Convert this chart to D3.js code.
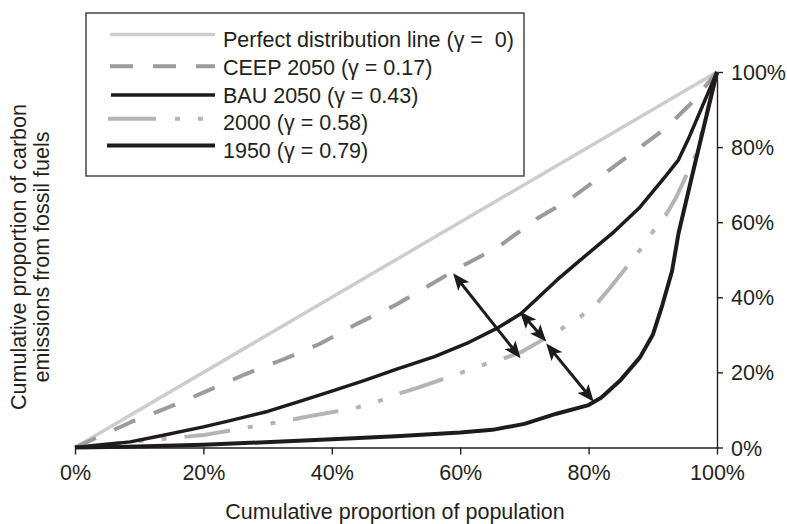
<!DOCTYPE html>
<html><head><meta charset="utf-8">
<script src="https://cdn.jsdelivr.net/npm/d3@7"></script>
<style>
html,body{margin:0;padding:0;background:#fff;}
svg{display:block;font-family:"Liberation Sans",Arial,Helvetica,sans-serif;}
text{white-space:pre;}
</style></head>
<body>
<svg id="chart" width="787" height="524"></svg>
<script>
// ---- data (cumulative % population, cumulative % emissions) ----
const xTicks = [0, 20, 40, 60, 80, 100];
const yTicks = [0, 20, 40, 60, 80, 100];
const seriesNames = ["Perfect distribution line (\u03b3 =  0)", "CEEP 2050 (\u03b3 = 0.17)", "BAU 2050 (\u03b3 = 0.43)", "2000 (\u03b3 = 0.58)", "1950 (\u03b3 = 0.79)"];
const perfectLine = [[0,0],[100,100]];
const ceep2050 = [[0,0],[8.5,6.6],[15,11],[20.5,15],[26.5,19.5],[32.5,23.5],[38,27.5],[44,33],[50,38],[55,43],[60,48],[66,53.5],[72,61],[77,66],[86,77.4],[92,85],[96,91.7],[100,100]];
const bau2050 = [[0,0],[8.6,1.5],[13,3],[20,5.5],[24,7.1],[30,9.6],[35,12.3],[40,15],[45,17.8],[50,20.8],[56,24.2],[61,27.7],[66,32],[69.5,35.7],[75,44.5],[78.7,49.9],[84,57.5],[88,64],[92,72.3],[94,76.6],[95.5,82],[100,100]];
const y2000 = [[0,0],[8.6,1.5],[15,2.5],[20,3.3],[25.7,5],[29,6],[33,7.1],[36,8.2],[43.4,10.4],[46.5,11.8],[49.8,14],[53.2,15.8],[60,19.8],[63,21.7],[66.7,23.7],[69.6,25.5],[75.5,31.3],[78.7,34.8],[81.3,38.4],[83.3,42.4],[88,52.6],[89.8,57],[92.2,62.4],[93.7,66.8],[96.8,78.3],[100,100]];
const y1950 = [[0,0],[8,0.2],[20,0.7],[40,2.2],[50,3],[60,4],[65,4.7],[70,6.3],[75,9],[80,11.3],[82,13.3],[85,18],[88,24],[90,30],[91.5,38],[93,47],[94,57],[96,71.5],[98.4,88.6],[100,100]];
// annotation arrows (tip to tip): [x1,y1,x2,y2] in data units
const arrows = [[58.9,46.4,69.4,23.8],[69.3,36.2,73.4,28.2],[73.4,27.7,80.8,12.2]];

// ---- layout ----
const svg = d3.select("#chart");
const x = d3.scaleLinear().domain([0,100]).range([75,717]);
const y = d3.scaleLinear().domain([0,100]).range([447.5,72]);
const fmt = d => d + "%";
const textCol = "#231f20";
const fontFam = '"Liberation Sans",Arial,Helvetica,sans-serif';

const styles = [
  {color:"#cdcdcd", width:3.5, dash:null},
  {color:"#9b9b9b", width:4, dash:"23,20"},
  {color:"#1f1b1c", width:3.5, dash:null},
  {color:"#b4b4b4", width:4, dash:"46,18,5,18,5,18"},
  {color:"#1f1b1c", width:4, dash:null}
];
const seriesData = [perfectLine, ceep2050, bau2050, y2000, y1950];

// axes
const xAxis = svg.append("g").attr("transform", `translate(0,${y(0)})`)
  .call(d3.axisBottom(x).tickValues(xTicks).tickFormat(fmt).tickSize(7).tickSizeOuter(0).tickPadding(10));
const yAxis = svg.append("g").attr("transform", `translate(${x(100)},0)`)
  .call(d3.axisRight(y).tickValues(yTicks).tickFormat(fmt).tickSize(6).tickSizeOuter(0).tickPadding(8));
[xAxis, yAxis].forEach(g => {
  g.selectAll("path.domain").attr("stroke", "#231f20").attr("stroke-width", 1.4);
  g.selectAll(".tick line").attr("stroke", "#231f20").attr("stroke-width", 1.4);
  g.selectAll(".tick text").attr("fill", textCol).style("font-size", "21.5px").style("font-family", fontFam);
});
xAxis.selectAll(".tick text").attr("dy", "0.72em");
yAxis.selectAll(".tick text").attr("dy", "0.35em");

// lines
const line = d3.line().x(d => x(d[0])).y(d => y(d[1])).curve(d3.curveLinear);
const drawOrder = [0, 1, 3, 2, 4];
drawOrder.forEach(i => {
  svg.append("path").datum(seriesData[i]).attr("d", line)
    .attr("fill", "none").attr("stroke", styles[i].color).attr("stroke-width", styles[i].width)
    .attr("stroke-linejoin", "round")
    .attr("stroke-dasharray", styles[i].dash);
});

// arrows
const defs = svg.append("defs");
defs.append("marker").attr("id", "ah").attr("viewBox", "0 0 17 14")
  .attr("markerWidth", 17).attr("markerHeight", 14).attr("markerUnits", "userSpaceOnUse")
  .attr("refX", 11).attr("refY", 7).attr("orient", "auto-start-reverse")
  .append("path").attr("d", "M0,0 L17,7 L0,14 L4,7 Z").attr("fill", "#1f1b1c");
const inset = 6;
svg.append("g").selectAll("line").data(arrows).join("line")
  .each(function(d) {
    const x1 = x(d[0]), y1 = y(d[1]), x2 = x(d[2]), y2 = y(d[3]);
    const L = Math.hypot(x2 - x1, y2 - y1), ux = (x2 - x1) / L, uy = (y2 - y1) / L;
    d3.select(this).attr("x1", x1 + ux * inset).attr("y1", y1 + uy * inset)
      .attr("x2", x2 - ux * inset).attr("y2", y2 - uy * inset);
  })
  .attr("stroke", "#1f1b1c").attr("stroke-width", 3)
  .attr("marker-start", "url(#ah)").attr("marker-end", "url(#ah)");

// legend
const lg = svg.append("g");
lg.append("rect").attr("x", 86).attr("y", 13).attr("width", 438).attr("height", 163)
  .attr("fill", "#fff").attr("stroke", "#3a3a3a").attr("stroke-width", 1.4);
const rowY = [39.5, 67.3, 95, 122.8, 150.6];
const sampleDy = [-5, -1, 0, -4, -5];
const sampleX = [[110,215],[110,215],[111,215],[108,203],[107,215]];
seriesNames.forEach((name, i) => {
  lg.append("line").attr("x1", sampleX[i][0]).attr("x2", sampleX[i][1])
    .attr("y1", rowY[i] + sampleDy[i]).attr("y2", rowY[i] + sampleDy[i])
    .attr("stroke", styles[i].color).attr("stroke-width", styles[i].width)
    .attr("stroke-dasharray", i === 3 ? "48,19,5,18,5,18" : styles[i].dash);
  lg.append("text").attr("x", 223).attr("y", rowY[i]).attr("dy", "0.35em")
    .attr("fill", textCol).style("font-size", "21.5px").text(name);
});

// axis titles
svg.append("text").attr("x", 395).attr("y", 511).attr("dy", "0.35em").attr("text-anchor", "middle")
  .attr("fill", textCol).style("font-size", "21.5px").text("Cumulative proportion of population");
const yt = svg.append("text").attr("transform", "translate(18,257) rotate(-90)")
  .attr("text-anchor", "middle").attr("fill", textCol).style("font-size", "21.5px");
yt.append("tspan").attr("x", 0).attr("dy", "0.35em").text("Cumulative proportion of carbon");
yt.append("tspan").attr("x", 0).attr("dy", "1.1em").text("emissions from fossil fuels");
</script>
</body></html>
